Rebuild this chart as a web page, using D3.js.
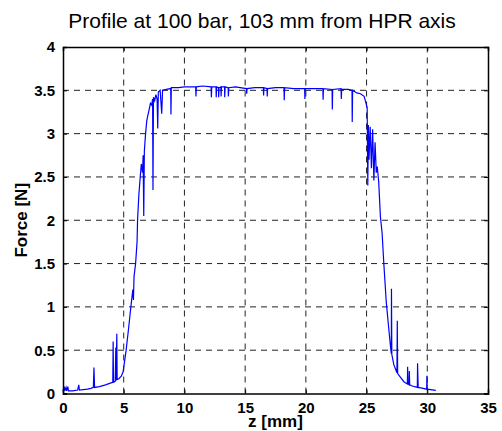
<!DOCTYPE html>
<html>
<head>
<meta charset="utf-8">
<script src="https://cdn.jsdelivr.net/npm/d3@7"></script>
<style>
  body { margin: 0; background: #fff; }
  svg { display: block; font-family: "Liberation Sans", Arial, sans-serif; }
</style>
</head>
<body>
<svg id="chart" width="502" height="431"></svg>
<script>
// profile data (z in mm, force in N)
const zValues = [
  0.00, 0.10, 0.15, 0.25, 0.30, 0.40, 0.45, 0.80, 1.20, 1.30, 1.35, 2.00, 2.30, 2.50, 2.55, 2.60,
  3.00, 3.50, 3.90, 4.10, 4.13, 4.16, 4.30, 4.35, 4.38, 4.43, 4.46, 4.60, 4.80, 4.95, 5.05, 5.20,
  5.40, 5.59, 5.75, 5.80, 5.85, 5.98, 6.10, 6.14, 6.25, 6.36, 6.45, 6.55, 6.60, 6.65, 6.70, 6.80,
  6.90, 6.97, 7.10, 7.20, 7.30, 7.38, 7.41, 7.45, 7.55, 7.65, 7.75, 7.80, 7.85, 8.00, 8.13, 8.20,
  8.50, 8.87, 8.89, 8.92, 9.50, 10.00, 10.50, 10.93, 10.95, 10.98, 11.50, 12.20, 12.22, 12.25,
  12.60, 12.62, 12.65, 12.80, 12.82, 12.85, 13.00, 13.02, 13.05, 13.30, 13.32, 13.35, 13.60, 13.62,
  13.65, 14.20, 15.10, 15.13, 15.16, 15.80, 16.50, 16.52, 16.55, 16.80, 16.82, 16.85, 17.50, 18.20,
  18.22, 18.25, 19.00, 19.90, 19.92, 19.95, 20.60, 21.40, 21.42, 21.45, 22.16, 22.18, 22.21, 22.90,
  22.92, 22.95, 23.50, 23.80, 23.82, 23.85, 24.20, 24.50, 24.80, 25.05, 25.10, 25.15, 25.20, 25.30,
  25.40, 25.50, 25.60, 25.70, 25.80, 25.88, 26.00, 26.14, 26.28, 26.42, 26.62, 26.84, 27.00, 27.04,
  27.05, 27.08, 27.25, 27.50, 27.53, 27.56, 28.07, 28.36, 28.38, 28.41, 28.50, 28.52, 28.55, 28.77,
  29.18, 29.20, 29.25, 29.46, 29.95, 29.97, 30.00, 30.70
];
const forceValues = [
  0.03, 0.08, 0.03, 0.07, 0.03, 0.08, 0.03, 0.03, 0.04, 0.10, 0.04, 0.05, 0.06, 0.07, 0.30, 0.07,
  0.08, 0.10, 0.12, 0.13, 0.60, 0.13, 0.14, 0.53, 0.15, 0.69, 0.16, 0.17, 0.20, 0.25, 0.35, 0.50,
  0.75, 1.00, 1.20, 1.08, 1.35, 1.50, 1.75, 2.00, 2.30, 2.50, 2.65, 2.55, 2.75, 2.05, 2.80, 3.00,
  3.15, 3.20, 3.28, 3.35, 3.33, 3.40, 2.35, 3.42, 3.38, 3.45, 3.40, 3.06, 3.48, 3.50, 3.23, 3.50,
  3.51, 3.52, 3.22, 3.53, 3.53, 3.54, 3.54, 3.54, 3.43, 3.54, 3.55, 3.54, 3.42, 3.54,
  3.54, 3.42, 3.54, 3.53, 3.42, 3.53, 3.54, 3.43, 3.54, 3.54, 3.42, 3.54, 3.53, 3.43,
  3.53, 3.54, 3.52, 3.46, 3.52, 3.53, 3.53, 3.44, 3.53, 3.52, 3.43, 3.52, 3.53, 3.53,
  3.385, 3.53, 3.52, 3.52, 3.40, 3.52, 3.52, 3.52, 3.39, 3.52, 3.51, 3.28, 3.51, 3.52,
  3.40, 3.51, 3.51, 3.50, 3.135, 3.50, 3.47, 3.46, 3.43, 3.30, 2.40, 3.10, 2.70, 3.08,
  2.60, 3.05, 2.46, 2.90, 2.55, 2.62, 2.44, 2.04, 1.85, 1.50, 1.06, 0.73, 0.50, 0.46,
  1.21, 0.45, 0.33, 0.24, 0.84, 0.23, 0.136, 0.11, 0.31, 0.11, 0.10, 0.26, 0.10, 0.087,
  0.07, 0.35, 0.07, 0.064, 0.05, 0.205, 0.05, 0.036
];
const xTicks = [0, 5, 10, 15, 20, 25, 30, 35];
const yTicks = [0, 0.5, 1, 1.5, 2, 2.5, 3, 3.5, 4];

const margin = {top: 47, right: 14, bottom: 37.5, left: 63};
const width = 502 - margin.left - margin.right;
const height = 431 - margin.top - margin.bottom;

const x = d3.scaleLinear().domain([0, 35]).range([0, width]);
const y = d3.scaleLinear().domain([0, 4]).range([height, 0]);

const svg = d3.select('#chart');
svg.append('rect').attr('width', 502).attr('height', 431).attr('fill', '#fff');

const g = svg.append('g').attr('transform', `translate(${margin.left},${margin.top})`);

// dashed grid
g.selectAll('.vgrid')
  .data(xTicks.slice(1, -1))
  .enter()
  .append('line')
  .attr('x1', d => x(d)).attr('x2', d => x(d))
  .attr('y1', height).attr('y2', 0)
  .attr('stroke', '#222').attr('stroke-width', 1).attr('stroke-dasharray', '6,5');
g.selectAll('.hgrid')
  .data(yTicks.slice(1, -1))
  .enter()
  .append('line')
  .attr('x1', 0).attr('x2', width)
  .attr('y1', d => y(d)).attr('y2', d => y(d))
  .attr('stroke', '#222').attr('stroke-width', 1).attr('stroke-dasharray', '6,5');

// the trace
const pts = zValues.map((z, i) => [z, forceValues[i]]);
const line = d3.line().x(d => x(d[0])).y(d => y(d[1]));
g.append('path')
  .datum(pts)
  .attr('d', line)
  .attr('fill', 'none')
  .attr('stroke', '#0000ff')
  .attr('stroke-width', 1.2);

// axes, ticks pointing inward, on all four sides
const tickFmt = d3.format('~g');
g.append('g')
  .attr('transform', `translate(0,${height})`)
  .call(d3.axisBottom(x).tickValues(xTicks).tickSize(-4).tickPadding(9).tickFormat(tickFmt));
g.append('g')
  .call(d3.axisLeft(y).tickValues(yTicks).tickSize(-4).tickPadding(8).tickFormat(tickFmt));
g.append('g')
  .call(d3.axisTop(x).tickValues(xTicks).tickSize(-4).tickFormat(''));
g.append('g')
  .attr('transform', `translate(${width},0)`)
  .call(d3.axisRight(y).tickValues(yTicks).tickSize(-4).tickFormat(''));

g.selectAll('.domain').attr('stroke', '#000').attr('stroke-width', 1.5);
g.selectAll('.tick line').attr('stroke', '#000').attr('stroke-width', 1);
g.selectAll('.tick text')
  .attr('fill', '#000')
  .style('font-family', '"Liberation Sans", Arial, sans-serif')
  .style('font-size', '15px')
  .style('font-weight', 'bold');

// titles
svg.append('text')
  .attr('x', 262).attr('y', 28)
  .attr('text-anchor', 'middle')
  .style('font-size', '21px')
  .text('Profile at 100 bar, 103 mm from HPR axis');

svg.append('text')
  .attr('x', margin.left + width / 2).attr('y', 427)
  .attr('text-anchor', 'middle')
  .style('font-size', '17px')
  .style('font-weight', 'bold')
  .text('z [mm]');

svg.append('text')
  .attr('transform', `translate(27,${margin.top + height / 2}) rotate(-90)`)
  .attr('text-anchor', 'middle')
  .style('font-size', '17px')
  .style('font-weight', 'bold')
  .text('Force [N]');
</script>
</body>
</html>
